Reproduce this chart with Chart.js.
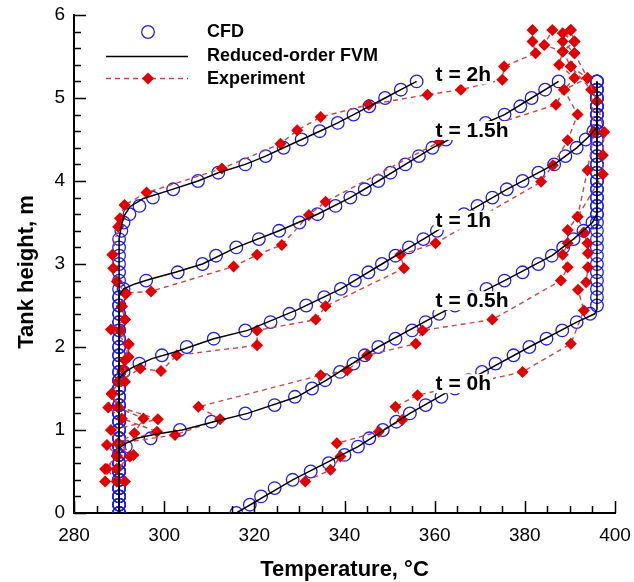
<!DOCTYPE html>
<html>
<head>
<meta charset="utf-8">
<script src="https://cdn.jsdelivr.net/npm/chart.js@4.4.1/dist/chart.umd.min.js"></script>
<style>
  html, body { margin: 0; padding: 0; background: #fff; }
  canvas { display: block; }
</style>
</head>
<body>
<canvas id="tankChart" width="634" height="582"></canvas>
<script>
// CFD heights (m), one value per 0.1 m
const cfdHeights = [0, 0.1, 0.2, 0.3, 0.4, 0.5, 0.6, 0.7, 0.8, 0.9, 1.0, 1.1, 1.2, 1.3, 1.4, 1.5, 1.6, 1.7, 1.8, 1.9,
  2.0, 2.1, 2.2, 2.3, 2.4, 2.5, 2.6, 2.7, 2.8, 2.9, 3.0, 3.1, 3.2, 3.3, 3.4, 3.5, 3.6, 3.7, 3.8, 3.9,
  4.0, 4.1, 4.2, 4.3, 4.4, 4.5, 4.6, 4.7, 4.8, 4.9, 5.0, 5.1, 5.2];

// CFD temperatures (C) for each time
const cfd0h = [316, 319, 321.5, 324.5, 328.5, 332.5, 336.5, 340, 343, 345.5, 348.5, 351.5, 354.5, 358, 361.5, 364.5, 367.5, 370.5, 373.5, 377.5,
  381, 384.8, 388.3, 391.5, 394.5, 396, 396, 396, 396, 396, 396, 396, 396, 396, 396, 396, 396, 396, 396, 396,
  396, 396, 396, 396, 396, 396, 396, 396, 396, 396, 396, 396, 396];
const cfd05h = [290, 290, 290, 290, 290, 290, 290, 290, 291.5, 297, 303.5, 310.5, 318, 324.5, 329, 332.8, 335.7, 339, 342, 344.5,
  347.5, 351.3, 355, 358, 361, 364.5, 368, 371.5, 375.5, 379.5, 383, 386, 388.5, 390.8, 393, 395, 396, 396, 396, 396,
  396, 396, 396, 396, 396, 396, 396, 396, 396, 396, 396, 396, 396];
const cfd1h = [290, 290, 290, 290, 290, 290, 290, 290, 290, 290, 290, 290, 290, 290, 290, 290, 290, 291, 294.5, 299.5,
  305, 311, 318, 323.6, 327.8, 331.5, 335.5, 339.2, 342.3, 345.3, 348.3, 351.3, 354.3, 357.5, 360.5, 363.5, 366.5, 369.5, 372.8, 376,
  379.5, 383, 386.5, 389, 391.5, 393.5, 395.2, 396, 396, 396, 396, 396, 396];
const cfd15h = [290, 290, 290, 290, 290, 290, 290, 290, 290, 290, 290, 290, 290, 290, 290, 290, 290, 290, 290, 290,
  290, 290, 290, 290, 290, 290, 290, 291, 296, 303, 308.5, 311.5, 316, 321, 325.5, 330, 334, 338, 341.3, 344.5,
  347.5, 350.2, 353.5, 356.5, 359.5, 362.5, 367, 371.3, 375.5, 379, 381.5, 384.5, 387.5];
const cfd2h = [290, 290, 290, 290, 290, 290, 290, 290, 290, 290, 290, 290, 290, 290, 290, 290, 290, 290, 290, 290,
  290, 290, 290, 290, 290, 290, 290, 290, 290, 290, 290, 290, 290, 290, 290.5, 291, 292.3, 294.5, 297.5, 302,
  307.5, 312, 318, 322.5, 326.5, 330.5, 334.5, 338.5, 342, 345.5, 349, 352.5, 356];

// Reduced-order FVM profiles
const fvm0hT = [316, 328.5, 343, 354.5, 367.5, 381, 391.5, 395.5, 396, 396];
const fvm0hH = [0, 0.4, 0.8, 1.2, 1.6, 2.0, 2.3, 2.4, 2.45, 5.2];
const fvm05hT = [290, 290, 291.5, 294, 298, 304, 311, 318.5, 329.5, 336, 347.5, 361, 375.5, 386, 390.8, 395, 396, 396];
const fvm05hH = [0, 0.78, 0.84, 0.9, 0.95, 1.0, 1.1, 1.2, 1.4, 1.6, 2.0, 2.4, 2.8, 3.1, 3.3, 3.5, 3.6, 5.2];
const fvm1hT = [290, 290, 291.3, 293.2, 297.3, 302.4, 311, 318.5, 329.6, 339.2, 348.3, 357.5, 366.5, 376, 386.5, 391.5, 394.5, 396, 396];
const fvm1hH = [0, 1.62, 1.7, 1.76, 1.86, 1.94, 2.1, 2.2, 2.45, 2.7, 3.0, 3.3, 3.6, 3.9, 4.2, 4.4, 4.55, 4.65, 5.2];
const fvm15hT = [290, 290, 291, 293.5, 297, 302.5, 308.5, 316, 325.5, 334, 341.3, 347.5, 353.5, 359.5, 367, 375.5, 381.5, 387.5];
const fvm15hH = [0, 2.62, 2.7, 2.76, 2.82, 2.9, 3.0, 3.2, 3.4, 3.6, 3.8, 4.0, 4.2, 4.4, 4.6, 4.8, 5.0, 5.2];
const fvm2hT = [290, 290, 290.5, 291, 292.4, 295.4, 301.3, 307.5, 312, 318, 322.5, 326.5, 330.5, 334.5, 338.5, 342, 345.5, 349, 352.5, 356];
const fvm2hH = [0, 3.3, 3.45, 3.57, 3.69, 3.79, 3.89, 4.0, 4.1, 4.2, 4.3, 4.4, 4.5, 4.6, 4.7, 4.8, 4.9, 5.0, 5.1, 5.2];

// Experiment profiles
const exp0hT = [331.3, 336.9, 339.1, 338.3, 347.6, 352.8, 351.3, 356.2, 379.5, 390.2, 393.1, 391.8, 393.6, 394.0, 394.0, 393.9, 393.1, 391.7, 397.3, 397.3, 397.6, 396.0, 393.9, 391.0, 391.0, 390.2];
const exp0hH = [0.38, 0.52, 0.68, 0.84, 0.98, 1.12, 1.28, 1.42, 1.70, 2.04, 2.44, 2.69, 2.78, 2.96, 3.13, 3.25, 3.38, 3.57, 4.08, 4.31, 4.59, 4.96, 5.24, 5.54, 5.68, 5.82];
const exp05hT = [286.9, 286.9, 289.5, 287.3, 302.4, 312.4, 307.6, 334.7, 340.6, 345.0, 355.8, 357.3, 372.8, 388.0, 389.5, 388.4, 389.5, 389.5, 391.7, 393.9, 395.4, 394.7, 390.2, 391.0, 388.4, 390.2];
const exp05hH = [0.38, 0.53, 0.69, 0.82, 0.94, 1.13, 1.28, 1.66, 1.72, 1.90, 2.04, 2.20, 2.33, 2.80, 2.96, 3.11, 3.25, 3.41, 3.57, 4.13, 4.59, 5.10, 5.38, 5.54, 5.68, 5.82];
const exp1hT = [289.5, 289.5, 292.4, 289.8, 298.4, 290.6, 287.6, 288.4, 289.8, 294.7, 299.3, 302.8, 320.6, 320.6, 333.6, 335.8, 353.2, 352.4, 360.2, 383.6, 386.2, 389.5, 391.7, 388.7, 393.9, 390.2, 388.4, 391.0, 388.4];
const exp1hH = [0.38, 0.53, 0.68, 0.84, 0.98, 1.14, 1.27, 1.44, 1.58, 1.74, 1.71, 1.90, 2.02, 2.20, 2.33, 2.49, 2.95, 3.11, 3.25, 3.99, 4.19, 4.49, 4.80, 5.10, 5.24, 5.38, 5.56, 5.68, 5.78];
const exp15hT = [291.3, 289.5, 293.2, 289.8, 293.4, 295.4, 289.8, 288.4, 291.3, 291.3, 292.1, 288.2, 291.3, 290.6, 291.5, 297.1, 315.4, 320.6, 326.1, 332.1, 335.8, 361.0, 386.9, 388.7, 391.0, 387.6, 388.4, 384.3, 386.1];
const exp15hH = [0.38, 0.53, 0.70, 0.84, 0.96, 1.14, 1.27, 1.44, 1.58, 1.84, 2.03, 2.21, 2.33, 2.49, 2.65, 2.67, 2.97, 3.11, 3.23, 3.59, 3.75, 4.47, 4.92, 5.10, 5.24, 5.40, 5.56, 5.64, 5.82];
const exp2hT = [289.5, 287.3, 289.5, 289.8, 288.2, 298.6, 289.8, 288.4, 289.8, 291.0, 292.1, 292.1, 290.2, 291.3, 290.6, 291.5, 289.5, 288.7, 288.5, 289.8, 290.2, 291.2, 296.1, 312.8, 325.8, 329.5, 334.7, 345.4, 358.4, 365.8, 375.0, 375.4, 382.4, 381.7, 381.7];
const exp2hH = [0.38, 0.53, 0.68, 0.83, 1.00, 1.13, 1.28, 1.43, 1.58, 1.73, 1.88, 2.04, 2.20, 2.33, 2.49, 2.64, 2.79, 2.95, 3.11, 3.45, 3.55, 3.71, 3.86, 4.15, 4.45, 4.61, 4.77, 4.92, 5.04, 5.10, 5.22, 5.38, 5.54, 5.68, 5.82];

// curve labels
const timeLabels = ['t = 0h', 't = 0.5h', 't = 1h', 't = 1.5h', 't = 2h'];
const labelT = [360.2, 360.2, 360.2, 360.2, 360.2];
const labelH = [1.48, 2.48, 3.45, 4.53, 5.20];

const xTicks = [280, 300, 320, 340, 360, 380, 400];
const yTicks = [0, 1, 2, 3, 4, 5, 6];

const BLUE = 'rgb(30,30,235)';
const RED = 'rgb(225,0,0)';
const RED_DASH = 'rgb(205,70,70)';
const FONT = '"Liberation Sans", Arial, Helvetica, sans-serif';

function pts(xs, ys) {
    return xs.map((v, i) => ({ x: v, y: ys[i] }));
}

function cfdSet(temps) {
    return {
        data: pts(temps, cfdHeights),
        showLine: false,
        pointStyle: 'circle',
        pointRadius: 6.3,
        pointBorderWidth: 1.3,
        pointBorderColor: BLUE,
        pointBackgroundColor: 'rgba(0,0,0,0)',
        order: 3
    };
}

function expSet(xs, ys) {
    return {
        data: pts(xs, ys),
        showLine: true,
        borderColor: RED_DASH,
        borderWidth: 1.4,
        borderDash: [5, 4],
        pointStyle: 'rectRot',
        pointRadius: 6,
        pointBorderWidth: 0,
        pointBackgroundColor: RED,
        pointBorderColor: RED,
        order: 2
    };
}

function fvmSet(xs, ys) {
    return {
        data: pts(xs, ys),
        showLine: true,
        borderColor: '#000',
        borderWidth: 1.5,
        pointRadius: 0,
        order: 1
    };
}

// inward ticks, legend, titles, curve labels
const decorPlugin = {
    id: 'decor',
    afterDatasetsDraw(chart) {
        const ctx = chart.ctx;
        const xs = chart.scales.x, ys = chart.scales.y;
        ctx.save();
        ctx.font = 'bold 21px ' + FONT;
        ctx.textBaseline = 'alphabetic';
        ctx.textAlign = 'left';
        timeLabels.forEach((txt, i) => {
            const px = xs.getPixelForValue(labelT[i]);
            const py = ys.getPixelForValue(labelH[i]);
            const w = ctx.measureText(txt).width;
            ctx.fillStyle = '#fff';
            ctx.fillRect(px - 2, py - 16, w + 4, 19);
            ctx.fillStyle = '#000';
            ctx.fillText(txt, px, py);
        });
        ctx.restore();
    },
    afterDraw(chart) {
        const ctx = chart.ctx;
        const area = chart.chartArea;
        const xs = chart.scales.x, ys = chart.scales.y;
        ctx.save();
        ctx.strokeStyle = '#000';
        ctx.lineWidth = 1.5;
        ctx.beginPath();
        for (let v = 280; v <= 400; v += 5) {
            const px = Math.round(xs.getPixelForValue(v)) + 0.5;
            const len = v % 20 === 0 ? 12 : 7;
            ctx.moveTo(px, area.bottom);
            ctx.lineTo(px, area.bottom - len);
        }
        for (let k = 0; k <= 30; k++) {
            const py = Math.round(ys.getPixelForValue(k * 0.2)) + 0.5;
            const len = k % 5 === 0 ? 12 : 7;
            ctx.moveTo(area.left, py);
            ctx.lineTo(area.left + len, py);
        }
        ctx.stroke();

        // legend
        ctx.lineWidth = 1.3;
        ctx.strokeStyle = BLUE;
        ctx.beginPath();
        ctx.arc(148, 32, 6.3, 0, Math.PI * 2);
        ctx.stroke();
        ctx.strokeStyle = '#000';
        ctx.lineWidth = 1.5;
        ctx.beginPath();
        ctx.moveTo(106, 56.5);
        ctx.lineTo(188, 56.5);
        ctx.stroke();
        ctx.strokeStyle = RED_DASH;
        ctx.lineWidth = 1.4;
        ctx.setLineDash([5, 4]);
        ctx.beginPath();
        ctx.moveTo(106, 78.5);
        ctx.lineTo(188, 78.5);
        ctx.stroke();
        ctx.setLineDash([]);
        ctx.fillStyle = RED;
        ctx.beginPath();
        ctx.moveTo(142, 78.5);
        ctx.lineTo(148, 72.5);
        ctx.lineTo(154, 78.5);
        ctx.lineTo(148, 84.5);
        ctx.closePath();
        ctx.fill();

        ctx.fillStyle = '#000';
        ctx.font = 'bold 18px ' + FONT;
        ctx.textAlign = 'left';
        ctx.textBaseline = 'middle';
        ctx.fillText('CFD', 207, 32);
        ctx.fillText('Reduced-order FVM', 207, 56);
        ctx.fillText('Experiment', 207, 79);

        // axis titles
        ctx.font = 'bold 22px ' + FONT;
        ctx.textAlign = 'center';
        ctx.textBaseline = 'alphabetic';
        ctx.fillText('Temperature, \u00B0C', (area.left + area.right) / 2, 576);
        ctx.translate(33, 272);
        ctx.rotate(-Math.PI / 2);
        ctx.fillText('Tank height, m', 0, 0);
        ctx.restore();
    }
};

const ctx = document.getElementById('tankChart').getContext('2d');
const tankChart = new Chart(ctx, {
    type: 'scatter',
    data: {
        datasets: [
            cfdSet(cfd0h), cfdSet(cfd05h), cfdSet(cfd1h), cfdSet(cfd15h), cfdSet(cfd2h),
            expSet(exp0hT, exp0hH), expSet(exp05hT, exp05hH), expSet(exp1hT, exp1hH),
            expSet(exp15hT, exp15hH), expSet(exp2hT, exp2hH),
            fvmSet(fvm0hT, fvm0hH), fvmSet(fvm05hT, fvm05hH), fvmSet(fvm1hT, fvm1hH),
            fvmSet(fvm15hT, fvm15hH), fvmSet(fvm2hT, fvm2hH)
        ]
    },
    options: {
        responsive: false,
        animation: false,
        layout: { padding: 0 },
        plugins: {
            legend: { display: false },
            tooltip: { enabled: false }
        },
        scales: {
            x: {
                type: 'linear',
                min: 280,
                max: 400,
                afterFit: s => { s.height = 69; s.paddingLeft = 0; s.paddingRight = 19; },
                afterBuildTicks: s => { s.ticks = xTicks.map(v => ({ value: v })); },
                grid: { display: false, drawTicks: false },
                border: { display: true, color: '#000', width: 2 },
                ticks: { color: '#000', font: { family: FONT, size: 19 }, padding: 11, maxRotation: 0 }
            },
            y: {
                type: 'linear',
                min: 0,
                max: 6,
                afterFit: s => { s.width = 74; s.paddingTop = 15; s.paddingBottom = 0; },
                afterBuildTicks: s => { s.ticks = yTicks.map(v => ({ value: v })); },
                grid: { display: false, drawTicks: false },
                border: { display: true, color: '#000', width: 2 },
                ticks: { color: '#000', font: { family: FONT, size: 19 }, padding: 9 }
            }
        }
    },
    plugins: [decorPlugin]
});
</script>
</body>
</html>
